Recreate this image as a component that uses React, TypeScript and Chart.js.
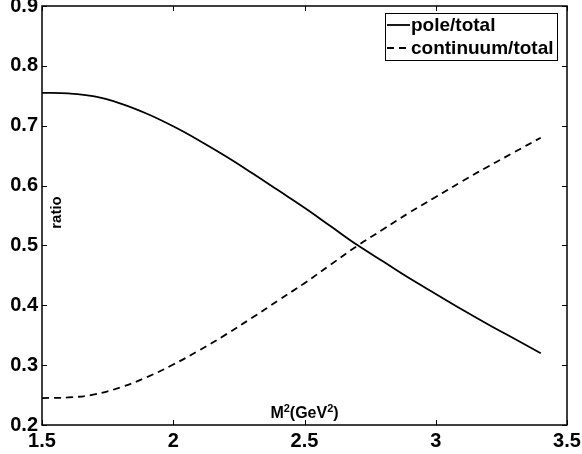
import React, { useEffect, useRef } from "react";
import { Chart, registerables } from "chart.js";

Chart.register(...registerables);

const massSq = [1.5, 1.6, 1.7, 1.8, 1.9, 2.0, 2.1, 2.2, 2.3, 2.4, 2.5, 2.6, 2.7, 2.8, 2.9, 3.0, 3.1, 3.2, 3.3, 3.4];
const poleRatio = [0.755, 0.754, 0.749, 0.737, 0.720, 0.699, 0.675, 0.649, 0.621, 0.592, 0.563, 0.532, 0.501, 0.473, 0.445, 0.419, 0.393, 0.368, 0.344, 0.320];
const continuumRatio = [0.245, 0.246, 0.251, 0.263, 0.280, 0.301, 0.325, 0.351, 0.379, 0.408, 0.437, 0.468, 0.499, 0.527, 0.555, 0.581, 0.607, 0.632, 0.656, 0.680];
const seriesLabels = ["pole/total", "continuum/total"];
const xTickValues = [1.5, 2, 2.5, 3, 3.5];
const yTickValues = [0.2, 0.3, 0.4, 0.5, 0.6, 0.7, 0.8, 0.9];
// x title pieces: [text, isSuperscript]
const xTitleParts: [string, boolean][] = [["M", false], ["2", true], ["(GeV", false], ["2", true], [")", false]];
const yTitle = "ratio";

const FONT = "'Liberation Sans', Arial, Helvetica, sans-serif";

const framePlugin = {
  id: "frame",
  afterDraw(chart: any) {
    const { ctx, chartArea: a, scales } = chart;
    const xs = scales.x;
    const ys = scales.y;
    ctx.save();
    ctx.strokeStyle = "#000";
    ctx.lineWidth = 1.5;
    ctx.strokeRect(a.left, a.top, a.right - a.left, a.bottom - a.top);
    ctx.lineWidth = 1;
    const tl = 5;
    ctx.beginPath();
    xTickValues.forEach((v) => {
      const px = Math.round(xs.getPixelForValue(v)) + 0.5;
      ctx.moveTo(px, a.bottom);
      ctx.lineTo(px, a.bottom - tl);
      ctx.moveTo(px, a.top);
      ctx.lineTo(px, a.top + tl);
    });
    yTickValues.forEach((v) => {
      const py = Math.round(ys.getPixelForValue(v)) + 0.5;
      ctx.moveTo(a.left, py);
      ctx.lineTo(a.left + tl, py);
      ctx.moveTo(a.right, py);
      ctx.lineTo(a.right - tl, py);
    });
    ctx.stroke();

    // x title with superscripts (inside plot, as in reference)
    ctx.fillStyle = "#000";
    ctx.textBaseline = "alphabetic";
    ctx.textAlign = "left";
    const big = `bold 16px ${FONT}`;
    const small = `bold 11px ${FONT}`;
    let total = 0;
    xTitleParts.forEach(([t, sup]) => {
      ctx.font = sup ? small : big;
      total += ctx.measureText(t).width;
    });
    let cx = (a.left + a.right) / 2 - total / 2;
    const base = a.bottom - 7;
    xTitleParts.forEach(([t, sup]) => {
      ctx.font = sup ? small : big;
      ctx.fillText(t, cx, sup ? base - 6 : base);
      cx += ctx.measureText(t).width;
    });

    ctx.font = `bold 15px ${FONT}`;
    ctx.textAlign = "center";
    ctx.textBaseline = "middle";
    ctx.save();
    ctx.translate(a.left + 15, (a.top + a.bottom) / 2 - 3);
    ctx.rotate(-Math.PI / 2);
    ctx.fillText(yTitle, 0, 0);
    ctx.restore();

    // legend
    const boxL = 385, boxT = 13, boxR = 557, boxB = 60;
    ctx.fillStyle = "#fff";
    ctx.fillRect(boxL, boxT, boxR - boxL, boxB - boxT);
    ctx.strokeStyle = "#000";
    ctx.lineWidth = 1;
    ctx.strokeRect(boxL + 0.5, boxT + 0.5, boxR - boxL, boxB - boxT);
    const rows = [25, 48];
    chart.data.datasets.forEach((ds: any, i: number) => {
      const y = rows[i];
      ctx.beginPath();
      ctx.lineWidth = ds.borderWidth;
      ctx.strokeStyle = ds.borderColor;
      ctx.setLineDash(ds.borderDash || []);
      ctx.moveTo(387, y);
      ctx.lineTo(410, y);
      ctx.stroke();
      ctx.setLineDash([]);
      ctx.fillStyle = "#000";
      ctx.font = `bold 19px ${FONT}`;
      ctx.textAlign = "left";
      ctx.textBaseline = "middle";
      ctx.fillText(ds.label, 411, y + 1);
    });
    ctx.restore();
  },
};

export default function App() {
  const ref = useRef<HTMLCanvasElement | null>(null);
  useEffect(() => {
    document.body.style.margin = "0";
    const canvas = ref.current;
    if (!canvas) return;
    const tickFont = { family: FONT, weight: "bold" as const, size: 20 };
    const chart = new Chart(canvas, {
      type: "line",
      data: {
        datasets: [
          {
            label: seriesLabels[0],
            data: massSq.map((x, i) => ({ x, y: poleRatio[i] })),
            borderColor: "#000",
            borderWidth: 1.8,
            pointRadius: 0,
            tension: 0.4,
            fill: false,
          },
          {
            label: seriesLabels[1],
            data: massSq.map((x, i) => ({ x, y: continuumRatio[i] })),
            borderColor: "#000",
            borderWidth: 1.8,
            borderDash: [7, 5],
            pointRadius: 0,
            tension: 0.4,
            fill: false,
          },
        ],
      },
      options: {
        animation: false,
        responsive: false,
        maintainAspectRatio: false,
        layout: { padding: { top: 6, right: 15, left: 0, bottom: 0 } },
        plugins: { legend: { display: false }, tooltip: { enabled: false } },
        scales: {
          x: {
            type: "linear",
            min: 1.5,
            max: 3.5,
            afterBuildTicks: (s: any) => {
              s.ticks = xTickValues.map((v) => ({ value: v }));
            },
            afterFit: (s: any) => {
              s.height = 29;
              s.paddingLeft = 0;
              s.paddingRight = 0;
            },
            ticks: {
              font: tickFont,
              color: "#000",
              padding: 4,
              maxRotation: 0,
              autoSkip: false,
              callback: (v: any) => String(v),
            },
            grid: { display: false, drawTicks: false },
            border: { display: false },
          },
          y: {
            type: "linear",
            min: 0.2,
            max: 0.9,
            afterBuildTicks: (s: any) => {
              s.ticks = yTickValues.map((v) => ({ value: v }));
            },
            afterFit: (s: any) => {
              s.width = 42;
              s.paddingTop = 0;
              s.paddingBottom = 0;
            },
            ticks: {
              font: tickFont,
              color: "#000",
              padding: 4,
              autoSkip: false,
              callback: (v: any) => String(v),
            },
            grid: { display: false, drawTicks: false },
            border: { display: false },
          },
        },
      },
      plugins: [framePlugin],
    });
    return () => chart.destroy();
  }, []);
  return (
    <div style={{ position: "absolute", left: 0, top: 0, width: 582, height: 454, background: "#fff" }}>
      <canvas ref={ref} width={582} height={454} style={{ width: 582, height: 454 }} />
    </div>
  );
}
